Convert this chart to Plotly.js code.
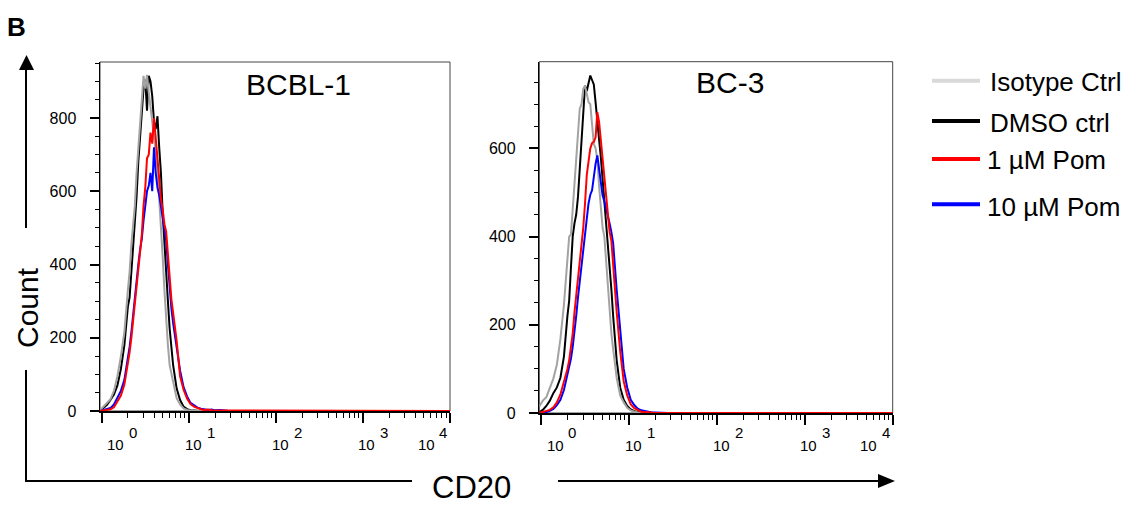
<!DOCTYPE html>
<html><head><meta charset="utf-8">
<script src="https://cdn.plot.ly/plotly-3.0.1.min.js"></script>
<style>html,body{margin:0;padding:0;background:#fff}#chart{width:1132px;height:510px}</style>
</head><body><div id="chart"></div>
<script>
// CD20 fluorescence channels (intensity, shown on a log axis)
const cd20Channels = [0.955, 1.047, 1.148, 1.259, 1.380, 1.514, 1.660, 1.820, 1.995,
  2.089, 2.188, 2.291, 2.399, 2.512, 2.630, 2.754, 2.884, 3.020, 3.162, 3.311, 3.467, 3.631,
  3.802, 3.981, 4.169, 4.365, 4.571, 4.786, 5.012, 5.248, 5.495, 5.754, 6.026, 6.310, 6.607,
  7.244, 7.943, 8.710, 9.550, 10.47, 11.48, 12.59, 13.80, 15.14, 16.60, 18.20, 19.95,
  22.91, 28.18, 39.81, 100, 316.2, 1000, 3162, 10000];

// BCBL-1 counts
const bcbl1Isotype = [2, 12, 22, 32, 55, 95, 150, 215, 330,
  380, 455, 500, 560, 650, 720, 790, 850, 915, 880, 918, 870, 830,
  800, 750, 710, 660, 590, 500, 420, 330, 250, 180, 125, 100, 75,
  35, 18, 7, 3, 1, 0, 0, 0, 0, 0, 0, 0,
  0, 0, 0, 0, 0, 0, 0, 0];
const bcbl1Dmso = [0, 8, 17, 30, 45, 70, 115, 180, 285,
  310, 375, 440, 500, 585, 680, 750, 820, 880, 905, 820, 915, 900,
  860, 790, 770, 805, 720, 650, 540, 450, 370, 300, 225, 170, 125,
  62, 30, 12, 5, 2, 1, 1, 0, 1, 0, 0, 0,
  0, 0, 0, 0, 0, 0, 0, 0];
const bcbl1Pom1 = [0, 1, 3, 5, 10, 28, 42, 72, 125,
  160, 200, 250, 295, 345, 390, 430, 480, 560, 610, 690, 700, 760,
  730, 800, 740, 690, 640, 580, 550, 510, 490, 430, 350, 305, 268,
  192, 95, 58, 34, 19, 12, 8, 5, 3, 4, 2, 2,
  1, 1, 0, 0, 0, 0, 0, 0];
const bcbl1Pom10 = [0, 2, 4, 8, 18, 35, 55, 85, 140,
  175, 215, 265, 310, 360, 400, 440, 470, 520, 560, 600, 615, 650,
  600, 720, 650, 610, 590, 560, 520, 490, 465, 400, 330, 280, 240,
  170, 110, 65, 40, 22, 15, 9, 6, 4, 3, 4, 2,
  3, 1, 0, 0, 0, 0, 0, 0];

// BC-3 counts
const bc3Isotype = [15, 28, 36, 55, 78, 110, 168, 245, 360,
  400, 405, 465, 520, 565, 625, 690, 700, 735, 742, 720, 705, 700,
  660, 610, 600, 575, 515, 475, 420, 400, 340, 285, 230, 180, 145,
  80, 40, 24, 12, 6, 3, 1, 0, 0, 0, 0, 0,
  0, 0, 0, 0, 0, 0, 0, 0];
const bc3Dmso = [2, 7, 16, 28, 45, 58, 80, 128, 220,
  255, 330, 400, 430, 450, 490, 560, 615, 690, 742, 730, 750, 765,
  755, 745, 705, 670, 620, 580, 530, 490, 445, 400, 335, 280, 220,
  120, 58, 30, 16, 8, 4, 2, 1, 0, 0, 0, 0,
  0, 0, 0, 0, 0, 0, 0, 0];
const bc3Pom1 = [0, 2, 4, 7, 13, 24, 42, 70, 100,
  120, 150, 180, 228, 265, 300, 340, 380, 420, 475, 540, 570, 600,
  612, 615, 625, 682, 660, 620, 580, 540, 500, 455, 410, 390, 330,
  230, 140, 72, 40, 20, 11, 6, 3, 2, 1, 0, 0,
  0, 0, 0, 0, 0, 0, 0, 0];
const bc3Pom10 = [0, 1, 2, 5, 9, 18, 30, 52, 85,
  100, 123, 150, 180, 220, 262, 300, 340, 370, 400, 440, 475, 495,
  505, 540, 565, 584, 550, 520, 493, 480, 465, 450, 430, 410, 385,
  280, 190, 100, 58, 30, 18, 10, 6, 4, 2, 1, 1,
  0, 0, 0, 0, 0, 0, 0, 0];

const panelTitles = ['BCBL-1', 'BC-3'];
const legendLabels = ['Isotype Ctrl', 'DMSO ctrl', '1 \u00b5M Pom', '10 \u00b5M Pom'];
const tickExponents = [0, 1, 2, 3, 4];
const yTicksBcbl1 = [0, 200, 400, 600, 800];
const yTicksBc3 = [0, 200, 400, 600];

const W = 1132, H = 510;
const px = x => x / W, py = y => 1 - y / H;
const FONT = 'Arial, "Liberation Sans", Helvetica, sans-serif';
const curveColors = {iso: '#a3a3a3', dmso: '#000000', pom1: '#ff0000', pom10: '#0000ff'};
const legendColors = ['#d9d9d9', '#000000', '#ff0000', '#0000ff'];

function panelTraces(xa, ya, iso, dmso, p1, p10) {
  const mk = (y, c, name) => ({x: cd20Channels, y: y, xaxis: xa, yaxis: ya, type: 'scatter',
    mode: 'lines', name: name, showlegend: false, hoverinfo: 'skip',
    line: {color: c, width: 2}});
  return [mk(dmso, curveColors.dmso, legendLabels[1]), mk(iso, curveColors.iso, legendLabels[0]),
          mk(p10, curveColors.pom10, legendLabels[3]), mk(p1, curveColors.pom1, legendLabels[2])];
}

const data = [].concat(
  panelTraces('x', 'y', bcbl1Isotype, bcbl1Dmso, bcbl1Pom1, bcbl1Pom10),
  panelTraces('x2', 'y2', bc3Isotype, bc3Dmso, bc3Pom1, bc3Pom10));

const minorVals = [];
[1, 10, 100, 1000].forEach(d => { for (let k = 2; k <= 9; k++) minorVals.push(k * d); });

function xAxis(dom, anchor) {
  return {domain: dom, anchor: anchor, type: 'log', range: [-0.02, 4.0],
    showline: true, linecolor: '#000', linewidth: 2, mirror: false,
    ticks: 'outside', tickvals: tickExponents.map(e => Math.pow(10, e)), ticklen: 10, tickwidth: 2, tickcolor: '#000',
    showticklabels: false, showgrid: false, zeroline: false, fixedrange: true,
    minor: {tickvals: minorVals, ticks: 'outside', ticklen: 5, tickwidth: 1, tickcolor: '#000', showgrid: false}};
}
function yAxis(dom, anchor, range, tv) {
  return {domain: dom, anchor: anchor, range: range,
    showline: true, linecolor: '#000', linewidth: 1.5,
    ticks: 'outside', tickvals: tv, ticklen: 9, tickwidth: 2, tickcolor: '#000',
    tickfont: {family: FONT, size: 16, color: '#000'}, ticklabelstandoff: 10,
    showgrid: false, zeroline: false, fixedrange: true,
    minor: {dtick: 50, ticks: 'outside', ticklen: 4, tickwidth: 1, tickcolor: '#000', showgrid: false}};
}

const annotations = [];
const shapes = [];

// frames
[['x', 'y'], ['x2', 'y2']].forEach(([xa, ya]) => {
  shapes.push({type: 'rect', xref: xa + ' domain', yref: ya + ' domain', x0: 0, x1: 1, y0: 0, y1: 1,
    line: {color: '#444', width: 1}, layer: 'below'});
});

// x tick labels "10" with raised exponent
const baseShift = [14, 5, 5, 4, -24];
[['x', 444, 432], ['x2', 445, 432]].forEach(([xa, yb, ye]) => {
  tickExponents.forEach((e, i) => {
    annotations.push({xref: xa, yref: 'paper', x: e, y: py(yb), xshift: baseShift[i], text: '10',
      showarrow: false, xanchor: 'center', yanchor: 'middle', font: {family: FONT, size: 15, color: '#000'}});
    annotations.push({xref: xa, yref: 'paper', x: e, y: py(ye), xshift: baseShift[i] + 17, text: String(e),
      showarrow: false, xanchor: 'center', yanchor: 'middle', font: {family: FONT, size: 15, color: '#000'}});
  });
});

// panel titles
annotations.push({xref: 'paper', yref: 'paper', x: px(298), y: py(85), text: panelTitles[0], showarrow: false,
  xanchor: 'center', yanchor: 'middle', font: {family: FONT, size: 30, color: '#000'}});
annotations.push({xref: 'paper', yref: 'paper', x: px(730), y: py(83), text: panelTitles[1], showarrow: false,
  xanchor: 'center', yanchor: 'middle', font: {family: FONT, size: 30, color: '#000'}});

// figure letter, axis labels
annotations.push({xref: 'paper', yref: 'paper', x: px(5), y: py(27), text: '<b>B</b>', showarrow: false,
  xanchor: 'left', yanchor: 'middle', font: {family: FONT, size: 26, color: '#000'}});
annotations.push({xref: 'paper', yref: 'paper', x: px(27), y: py(308), text: 'Count', showarrow: false, textangle: -90,
  xanchor: 'center', yanchor: 'middle', font: {family: FONT, size: 30, color: '#000'}});
annotations.push({xref: 'paper', yref: 'paper', x: px(471), y: py(487), text: 'CD20', showarrow: false,
  xanchor: 'center', yanchor: 'middle', font: {family: FONT, size: 31, color: '#000'}});

// arrows
const L = (x0, y0, x1, y1, w) => ({type: 'line', xref: 'paper', yref: 'paper', x0: px(x0), y0: py(y0), x1: px(x1), y1: py(y1),
  line: {color: '#000', width: w}});
shapes.push(L(26, 228, 26, 66, 2));
shapes.push({type: 'path', xref: 'paper', yref: 'paper',
  path: `M ${px(19)} ${py(70)} L ${px(34)} ${py(70)} L ${px(26.5)} ${py(55)} Z`, fillcolor: '#000', line: {color: '#000', width: 0}});
shapes.push(L(26, 370, 26, 481, 2));
shapes.push(L(25, 481, 412, 481, 2));
shapes.push(L(558, 481, 880, 481, 2));
shapes.push({type: 'path', xref: 'paper', yref: 'paper',
  path: `M ${px(878)} ${py(474)} L ${px(878)} ${py(488)} L ${px(895)} ${py(481)} Z`, fillcolor: '#000', line: {color: '#000', width: 0}});

// legend
const legY = [80.7, 121, 159, 204.3];
const legTextY = [82.5, 122.5, 160, 207];
const legTextX = [988, 988, 985, 985];
legendLabels.forEach((lab, i) => {
  shapes.push({type: 'line', xref: 'paper', yref: 'paper', x0: px(932), x1: px(980), y0: py(legY[i]), y1: py(legY[i]),
    line: {color: legendColors[i], width: 4}});
  annotations.push({xref: 'paper', yref: 'paper', x: px(legTextX[i]), y: py(legTextY[i]), text: lab, showarrow: false,
    xanchor: 'left', yanchor: 'middle', font: {family: FONT, size: 26, color: '#000'}});
});

const layout = {
  width: W, height: H, autosize: false,
  margin: {l: 0, r: 0, t: 0, b: 0, pad: 0},
  paper_bgcolor: '#fff', plot_bgcolor: 'rgba(0,0,0,0)',
  showlegend: false,
  font: {family: FONT, color: '#000'},
  xaxis: xAxis([px(100), px(450)], 'y'),
  yaxis: yAxis([py(411), py(62)], 'x', [0, 953], yTicksBcbl1),
  xaxis2: xAxis([px(539.3), px(892.7)], 'y2'),
  yaxis2: yAxis([py(413), py(61.7)], 'x2', [0, 796.5], yTicksBc3),
  shapes: shapes,
  annotations: annotations
};

Plotly.newPlot('chart', data, layout, {staticPlot: true, displayModeBar: false});
</script></body></html>
